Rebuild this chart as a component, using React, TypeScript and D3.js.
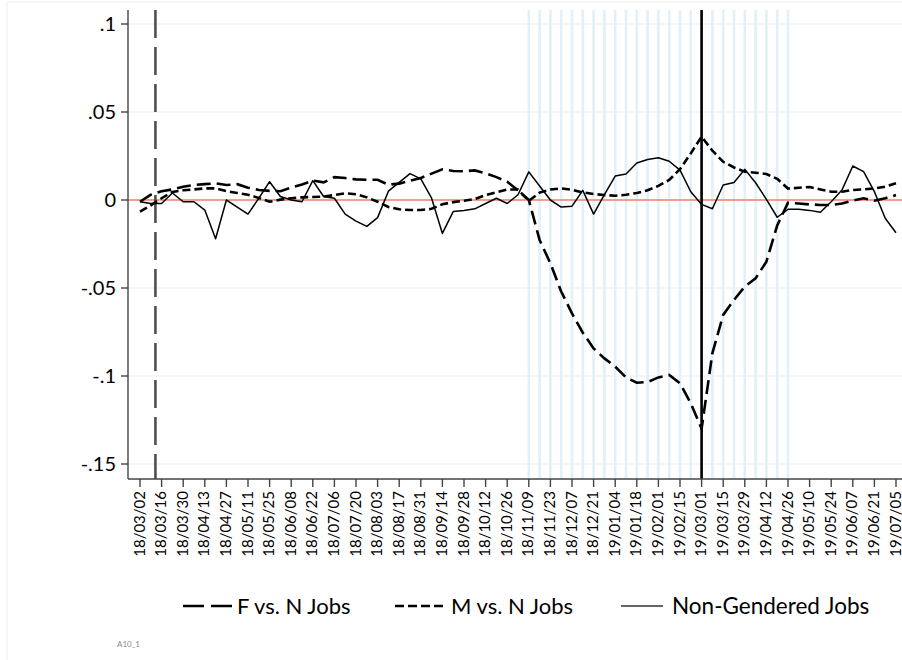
import React from "react";
import * as d3 from "d3";

// ---- data ----
const tickLabels = [
  "18/03/02","18/03/16","18/03/30","18/04/13","18/04/27","18/05/11","18/05/25","18/06/08",
  "18/06/22","18/07/06","18/07/20","18/08/03","18/08/17","18/08/31","18/09/14","18/09/28",
  "18/10/12","18/10/26","18/11/09","18/11/23","18/12/07","18/12/21","19/01/04","19/01/18",
  "19/02/01","19/02/15","19/03/01","19/03/15","19/03/29","19/04/12","19/04/26","19/05/10",
  "19/05/24","19/06/07","19/06/21","19/07/05"
];
const yTicks = [0.1, 0.05, 0, -0.05, -0.1, -0.15];
const yTickLabels = [".1", ".05", "0", "-.05", "-.1", "-.15"];

const firstWeek = "18/03/02";
const fVsN = [
  -0.001, 0.003, 0.005, 0.006, 0.0075, 0.0085, 0.009, 0.0095, 0.0085, 0.009,
  0.007, 0.0057, 0.0052, 0.005, 0.007, 0.0088, 0.011, 0.010, 0.013, 0.0125,
  0.0117, 0.0115, 0.0115, 0.0087, 0.0093, 0.011, 0.0125, 0.015, 0.0174, 0.0165,
  0.0163, 0.0168, 0.0152, 0.013, 0.0104, 0.0055, 0.000, -0.0227, -0.036, -0.052,
  -0.0644, -0.0754, -0.0843, -0.090, -0.0947, -0.1008, -0.1038, -0.1034, -0.1008, -0.0994,
  -0.1042, -0.1155, -0.130, -0.087, -0.0653, -0.0568, -0.0492, -0.0445, -0.035, -0.0145,
  -0.0015, -0.002, -0.0025, -0.0028, -0.0028, -0.002, -0.0004, 0.001, -0.0004, 0.001,
  0.0028
];
const mVsN = [
  -0.0066, -0.003, 0.001, 0.0045, 0.0055, 0.006, 0.0066, 0.0066, 0.005, 0.004,
  0.003, 0.0012, -0.001, 0.0002, 0.001, 0.0015, 0.0017, 0.0019, 0.0028, 0.0038,
  0.0033, 0.0015, -0.001, -0.004, -0.0053, -0.0057, -0.0057, -0.005, -0.0024, -0.0012,
  -0.0004, 0.0005, 0.0028, 0.0044, 0.006, 0.006, -0.0005, 0.0042, 0.006, 0.0066,
  0.0058, 0.0043, 0.0034, 0.0028, 0.0024, 0.003, 0.004, 0.0055, 0.008, 0.0114,
  0.0175, 0.0265, 0.036, 0.028, 0.0217, 0.0185, 0.0161, 0.0155, 0.0148, 0.012,
  0.0065, 0.007, 0.0074, 0.006, 0.0047, 0.0047, 0.0057, 0.006, 0.0066, 0.0076,
  0.0095
];
const nonGendered = [
  -0.001, -0.002, -0.002, 0.004, -0.001, -0.001, -0.0057, -0.022, 0.000, -0.004,
  -0.008, 0.001, 0.0104, 0.002, 0.000, -0.001, 0.011, 0.002, 0.001, -0.008,
  -0.012, -0.015, -0.010, 0.005, 0.010, 0.015, 0.012, 0.001, -0.019, -0.0066,
  -0.006, -0.005, -0.002, 0.001, -0.002, 0.003, 0.016, 0.008, 0.000, -0.004,
  -0.0035, 0.0055, -0.008, 0.003, 0.0136, 0.0148, 0.021, 0.023, 0.024, 0.022,
  0.017, 0.0047, -0.0025, -0.005, 0.0085, 0.010, 0.0174, 0.0098, 0.0004, -0.0098,
  -0.0053, -0.0053, -0.0059, -0.007, -0.001, 0.0057, 0.0193, 0.0161, 0.0047, -0.0104,
  -0.0186
];
const dashedEvent = "18/03/12";
const solidEvent = "19/03/01";
const shadeStart = "18/11/09";
const shadeEnd = "19/04/26";

const legendItems = ["F vs. N Jobs", "M vs. N Jobs", "Non-Gendered Jobs"];
const noteText = "A10_1";

// ---- helpers ----
const parse = d3.utcParse("%y/%m/%d");
const FONT = "Lato, 'Open Sans', sans-serif";

export default function App() {
  const W = 902, H = 660;
  const plotTop = 10, plotBottom = 479, plotLeft = 128, plotRight = 902;

  const x = d3.scaleUtc()
    .domain([parse(tickLabels[0])!, parse(tickLabels[tickLabels.length - 1])!])
    .range([140, 896]);
  const y = d3.scaleLinear().domain([-0.15, 0.1]).range([464, 24]);

  const start = parse(firstWeek)!;
  const weekDate = (i: number) => d3.utcDay.offset(start, 7 * i);

  const line = d3.line<number>()
    .x((_, i) => x(weekDate(i)))
    .y((v) => y(v));

  const shadeDates = d3.utcFriday.range(parse(shadeStart)!, d3.utcDay.offset(parse(shadeEnd)!, 1));

  const xDashed = x(parse(dashedEvent)!);
  const xSolid = x(parse(solidEvent)!);

  return (
    <svg width={W} height={H} style={{ position: "absolute", left: 0, top: 0, background: "#fff" }}
      fontFamily={FONT}>
      <rect x={0} y={0} width={W} height={H} fill="#fff" />
      <rect x={7} y={2} width={W} height={H} fill="none" stroke="#f0f0f0" strokeWidth={1} />
      {/* gridlines */}
      {yTicks.map((t) => (
        <line key={"g" + t} x1={plotLeft} x2={plotRight} y1={y(t)} y2={y(t)} stroke="#ececec" strokeWidth={1.2} />
      ))}
      {/* shaded weekly lines */}
      {shadeDates.map((d, i) => (
        <line key={"s" + i} x1={x(d)} x2={x(d)} y1={plotTop} y2={plotBottom} stroke="#e1f1f8" strokeWidth={2.6} />
      ))}
      {/* zero line */}
      <line x1={plotLeft} x2={plotRight} y1={y(0)} y2={y(0)} stroke="#f2826e" strokeWidth={1.6} />
      {/* event lines */}
      <line x1={xDashed} x2={xDashed} y1={plotTop} y2={plotBottom} stroke="#505050" strokeWidth={2.6} strokeDasharray="28,9" />
      <line x1={xSolid} x2={xSolid} y1={plotTop} y2={plotBottom} stroke="#000" strokeWidth={2.6} />
      {/* series */}
      <path d={line(nonGendered)!} fill="none" stroke="#000" strokeWidth={1.5} strokeLinejoin="round" />
      <path d={line(mVsN)!} fill="none" stroke="#000" strokeWidth={2.6} strokeDasharray="8,4" />
      <path d={line(fVsN)!} fill="none" stroke="#000" strokeWidth={2.6} strokeDasharray="14,6" />
      {/* axes */}
      <line x1={plotLeft} x2={plotLeft} y1={plotTop} y2={plotBottom} stroke="#444" strokeWidth={1.4} />
      <line x1={plotLeft} x2={plotRight} y1={plotBottom} y2={plotBottom} stroke="#444" strokeWidth={1.4} />
      {yTicks.map((t, i) => (
        <g key={"yt" + t}>
          <line x1={plotLeft - 7} x2={plotLeft} y1={y(t)} y2={y(t)} stroke="#444" strokeWidth={1.4} />
          <text x={116} y={y(t)} dy="0.35em" textAnchor="end" fontSize={20} fill="#000">{yTickLabels[i]}</text>
        </g>
      ))}
      {tickLabels.map((lab) => {
        const px = x(parse(lab)!);
        return (
          <g key={"xt" + lab}>
            <line x1={px} x2={px} y1={plotBottom} y2={plotBottom + 8} stroke="#444" strokeWidth={1.4} />
            <text transform={`translate(${px},491) rotate(-90)`} dy="0.3em" textAnchor="end" fontSize={15} fill="#000">{lab}</text>
          </g>
        );
      })}
      {/* legend */}
      <g>
        <line x1={183} x2={232} y1={606} y2={606} stroke="#000" strokeWidth={2.6} strokeDasharray="21,7" />
        <text x={237} y={606} dy="0.35em" fontSize={22} fill="#000">{legendItems[0]}</text>
        <line x1={395} x2={443} y1={606} y2={606} stroke="#000" strokeWidth={2.6} strokeDasharray="9,4" />
        <text x={451} y={606} dy="0.35em" fontSize={22} fill="#000">{legendItems[1]}</text>
        <line x1={621} x2={663} y1={606} y2={606} stroke="#333" strokeWidth={1.5} />
        <text x={672} y={606} dy="0.35em" fontSize={22.5} fill="#000">{legendItems[2]}</text>
      </g>
      <text x={117} y={647} fontSize={8} fill="#888">{noteText}</text>
    </svg>
  );
}
